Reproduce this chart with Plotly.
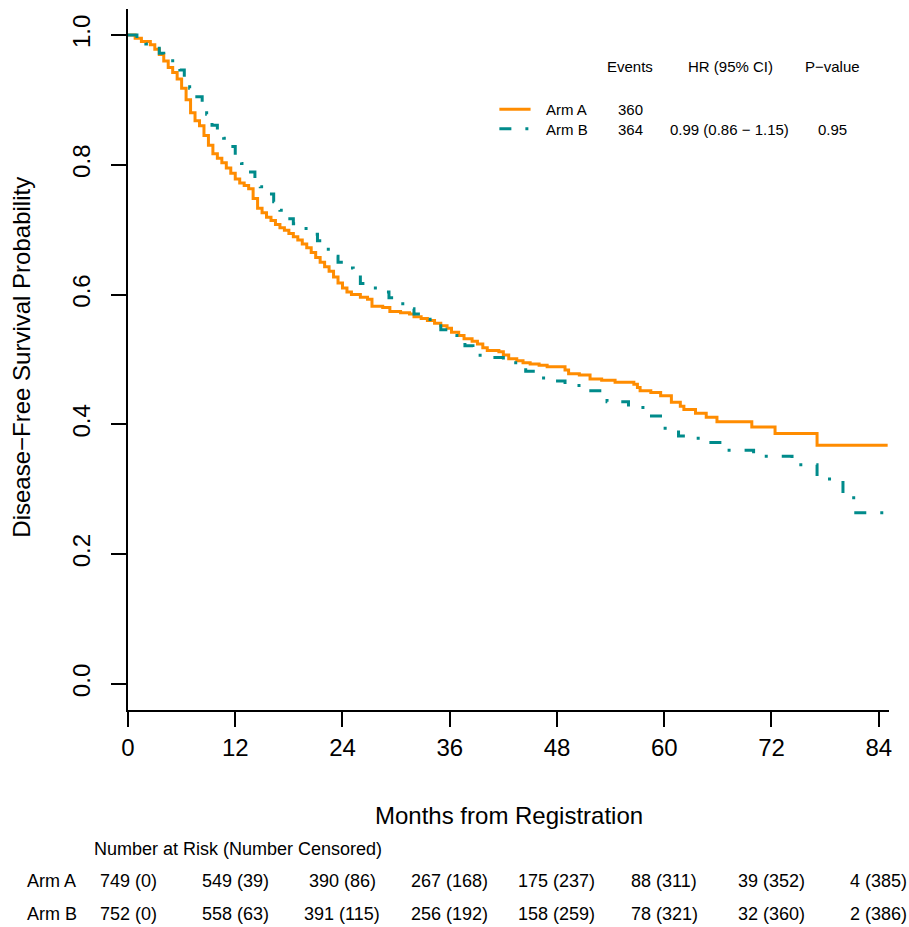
import plotly.graph_objects as go

# ---------------- data ----------------
arm_a_time = [0, 0.8, 1.5, 2.5, 3.0, 3.5, 4.0, 4.5, 5.0, 5.5, 6.0, 6.5, 7.0, 7.5, 8.0, 8.5,
              9.0, 9.5, 10.0, 10.5, 11.0, 11.5, 12.0, 12.5, 13.0, 13.5, 14.0, 14.5, 15.0,
              15.5, 16.0, 16.5, 17.0, 17.5, 18.0, 18.5, 19.0, 19.5, 20.0, 20.5, 21.0, 21.5,
              22.0, 22.5, 23.0, 23.5, 24.0, 24.5, 25.0, 26.0, 26.8, 27.3, 28.5, 29.3, 30.5,
              31.5, 32.0, 32.8, 33.5, 34.3, 35.0, 35.7, 36.2, 37.0, 37.6, 38.5, 39.1, 39.7,
              40.2, 41.5, 42.0, 42.6, 43.5, 44.2, 45.0, 46.0, 46.9, 48.9, 49.3, 50.5, 51.7,
              53.0, 54.5, 56.6, 57.0, 57.3, 58.5, 59.6, 60.8, 61.8, 62.2, 63.5, 64.7, 65.9,
              69.8, 72.4, 77.1, 85.0]
arm_a_surv = [1.000, 0.995, 0.990, 0.985, 0.978, 0.970, 0.960, 0.950, 0.942, 0.932, 0.918,
              0.900, 0.880, 0.868, 0.860, 0.845, 0.830, 0.817, 0.810, 0.803, 0.795, 0.787,
              0.778, 0.772, 0.768, 0.763, 0.748, 0.733, 0.726, 0.719, 0.714, 0.708, 0.703,
              0.699, 0.694, 0.689, 0.684, 0.678, 0.672, 0.665, 0.657, 0.650, 0.643, 0.636,
              0.627, 0.618, 0.610, 0.604, 0.600, 0.596, 0.593, 0.582, 0.580, 0.574, 0.572,
              0.570, 0.566, 0.563, 0.560, 0.556, 0.552, 0.548, 0.542, 0.537, 0.532, 0.528,
              0.524, 0.518, 0.514, 0.512, 0.507, 0.501, 0.498, 0.495, 0.493, 0.491, 0.489,
              0.484, 0.478, 0.476, 0.470, 0.468, 0.465, 0.462, 0.457, 0.452, 0.449, 0.444,
              0.434, 0.428, 0.423, 0.417, 0.411, 0.404, 0.396, 0.386, 0.368, 0.368]

arm_b_time = [0, 1.0, 2.0, 2.7, 3.5, 4.0, 5.0, 5.8, 6.3, 6.9, 7.5, 8.3, 8.8, 9.4, 10.0, 10.7,
              11.3, 12.0, 12.7, 13.5, 14.2, 14.8, 15.5, 16.3, 17.0, 17.6, 18.5, 19.5, 20.3,
              21.2, 22.0, 22.6, 23.5, 24.4, 25.2, 26.0, 27.0, 28.2, 29.2, 30.1, 31.0, 32.0,
              33.0, 33.8, 35.0, 35.9, 36.8, 37.7, 38.6, 39.4, 42.0, 44.5, 46.5, 48.9, 51.6,
              53.6, 56.0, 58.3, 60.1, 61.6, 63.8, 66.6, 70.0, 74.3, 77.1, 80.0, 81.2, 85.0]
arm_b_surv = [1.000, 0.993, 0.986, 0.982, 0.972, 0.964, 0.955, 0.946, 0.932, 0.918, 0.905,
              0.892, 0.878, 0.861, 0.851, 0.841, 0.828, 0.815, 0.802, 0.789, 0.777, 0.766,
              0.755, 0.743, 0.730, 0.717, 0.709, 0.702, 0.693, 0.683, 0.670, 0.659, 0.650,
              0.641, 0.630, 0.617, 0.610, 0.604, 0.595, 0.586, 0.578, 0.570, 0.562, 0.555,
              0.546, 0.537, 0.529, 0.521, 0.512, 0.503, 0.495, 0.482, 0.467, 0.460, 0.452,
              0.435, 0.426, 0.413, 0.394, 0.382, 0.372, 0.360, 0.351, 0.338, 0.316, 0.290,
              0.264, 0.264]

x_ticks = [0, 12, 24, 36, 48, 60, 72, 84]
y_ticks = [0.0, 0.2, 0.4, 0.6, 0.8, 1.0]
y_tick_labels = ["0.0", "0.2", "0.4", "0.6", "0.8", "1.0"]

arm_names = ["Arm A", "Arm B"]
arm_events = ["360", "364"]
hr_text = "0.99 (0.86 \u2212 1.15)"
p_text = "0.95"

risk_a = ["749 (0)", "549 (39)", "390 (86)", "267 (168)", "175 (237)", "88 (311)", "39 (352)", "4 (385)"]
risk_b = ["752 (0)", "558 (63)", "391 (115)", "256 (192)", "158 (259)", "78 (321)", "32 (360)", "2 (386)"]

# ---------------- styles ----------------
ORANGE = "#FF8C00"
TEAL = "#008B8B"
TEAL_DASH = "12px,14px,3px,14px"
FONT = "Liberation Sans, Arial, Helvetica, sans-serif"
NARROW = "Liberation Sans Narrow, Arial Narrow, Liberation Sans, Arial, sans-serif"

fig = go.Figure()
fig.add_trace(go.Scatter(x=arm_a_time, y=arm_a_surv, mode="lines", line_shape="hv",
                         line=dict(color=ORANGE, width=3), name="Arm A", showlegend=False,
                         hoverinfo="skip"))
fig.add_trace(go.Scatter(x=arm_b_time, y=arm_b_surv, mode="lines", line_shape="hv",
                         line=dict(color=TEAL, width=3, dash=TEAL_DASH), name="Arm B",
                         showlegend=False, hoverinfo="skip"))

ann = []
# axis titles
ann.append(dict(text="Months from Registration", xref="paper", yref="paper", x=0.5, y=-0.150,
                showarrow=False, font=dict(size=24, color="black", family=FONT),
                xanchor="center", yanchor="middle"))
ann.append(dict(text="Disease\u2212Free Survival Probability", xref="paper", yref="paper",
                x=-0.1397, y=0.5036, textangle=-90, showarrow=False,
                font=dict(size=24, color="black", family=FONT), xanchor="center", yanchor="middle"))

# legend / stats block
hdr_y = 0.918
row_y = [0.856, 0.828]
for txt, xc in [("Events", 0.6595), ("HR (95% CI)", 0.7916), ("P\u2212value", 0.9264)]:
    ann.append(dict(text=txt, xref="paper", yref="paper", x=xc, y=hdr_y, showarrow=False,
                    font=dict(size=15, color="black", family=FONT), xanchor="center", yanchor="middle"))
for i in range(2):
    ann.append(dict(text=arm_names[i], xref="paper", yref="paper", x=0.5465, y=row_y[i],
                    showarrow=False, font=dict(size=15, color="black", family=FONT),
                    xanchor="left", yanchor="middle"))
    ann.append(dict(text=arm_events[i], xref="paper", yref="paper", x=0.660, y=row_y[i],
                    showarrow=False, font=dict(size=15, color="black", family=FONT),
                    xanchor="center", yanchor="middle"))
ann.append(dict(text=hr_text, xref="paper", yref="paper", x=0.791, y=row_y[1], showarrow=False,
                font=dict(size=15, color="black", family=FONT), xanchor="center", yanchor="middle"))
ann.append(dict(text=p_text, xref="paper", yref="paper", x=0.9264, y=row_y[1], showarrow=False,
                font=dict(size=15, color="black", family=FONT), xanchor="center", yanchor="middle"))

shapes = [
    dict(type="line", xref="paper", yref="paper", x0=0.488, x1=0.529, y0=0.857, y1=0.857,
         line=dict(color=ORANGE, width=3)),
    dict(type="line", xref="paper", yref="paper", x0=0.488, x1=0.531, y0=0.829, y1=0.829,
         line=dict(color=TEAL, width=3, dash=TEAL_DASH)),
]

# risk table
ann.append(dict(text="Number at Risk (Number Censored)", xref="paper", yref="paper", x=-0.0477,
                y=-0.198, showarrow=False, font=dict(size=18, color="black", family=NARROW),
                xanchor="left", yanchor="middle"))
for rows, yv, lab in [(risk_a, -0.244, "Arm A"), (risk_b, -0.291, "Arm B")]:
    ann.append(dict(text=lab, xref="paper", yref="paper", x=-0.1003, y=yv, showarrow=False,
                    font=dict(size=18, color="black", family=NARROW), xanchor="center",
                    yanchor="middle"))
    for xv, t in zip(x_ticks, rows):
        ann.append(dict(text=t, xref="x", yref="paper", x=xv, y=yv, showarrow=False,
                        font=dict(size=18, color="black", family=NARROW), xanchor="center",
                        yanchor="middle"))

fig.update_layout(
    width=909, height=927, autosize=False,
    margin=dict(l=128, r=20, t=9, b=217),
    paper_bgcolor="white", plot_bgcolor="white",
    font=dict(family=FONT, color="black"),
    annotations=ann, shapes=shapes,
    xaxis=dict(range=[0, 85.15], tickvals=x_ticks, ticktext=[str(v) for v in x_ticks],
               showgrid=False, zeroline=False, showline=True, linecolor="black", linewidth=2,
               ticks="outside", ticklen=15, tickwidth=2, tickcolor="black",
               tickfont=dict(size=24, color="black", family=FONT)),
    yaxis=dict(range=[-0.04, 1.04], tickvals=y_ticks, ticktext=y_tick_labels,
               showgrid=False, zeroline=False, showline=True, linecolor="black", linewidth=2,
               ticks="outside", ticklen=15, tickwidth=2, tickcolor="black", tickangle=-90,
               ticklabelstandoff=11,
               tickfont=dict(size=24, color="black", family=FONT)),
)

fig.write_html("out.html", config={"displayModeBar": False},
               post_script="document.body.style.margin='0';document.body.style.overflow='hidden';")
